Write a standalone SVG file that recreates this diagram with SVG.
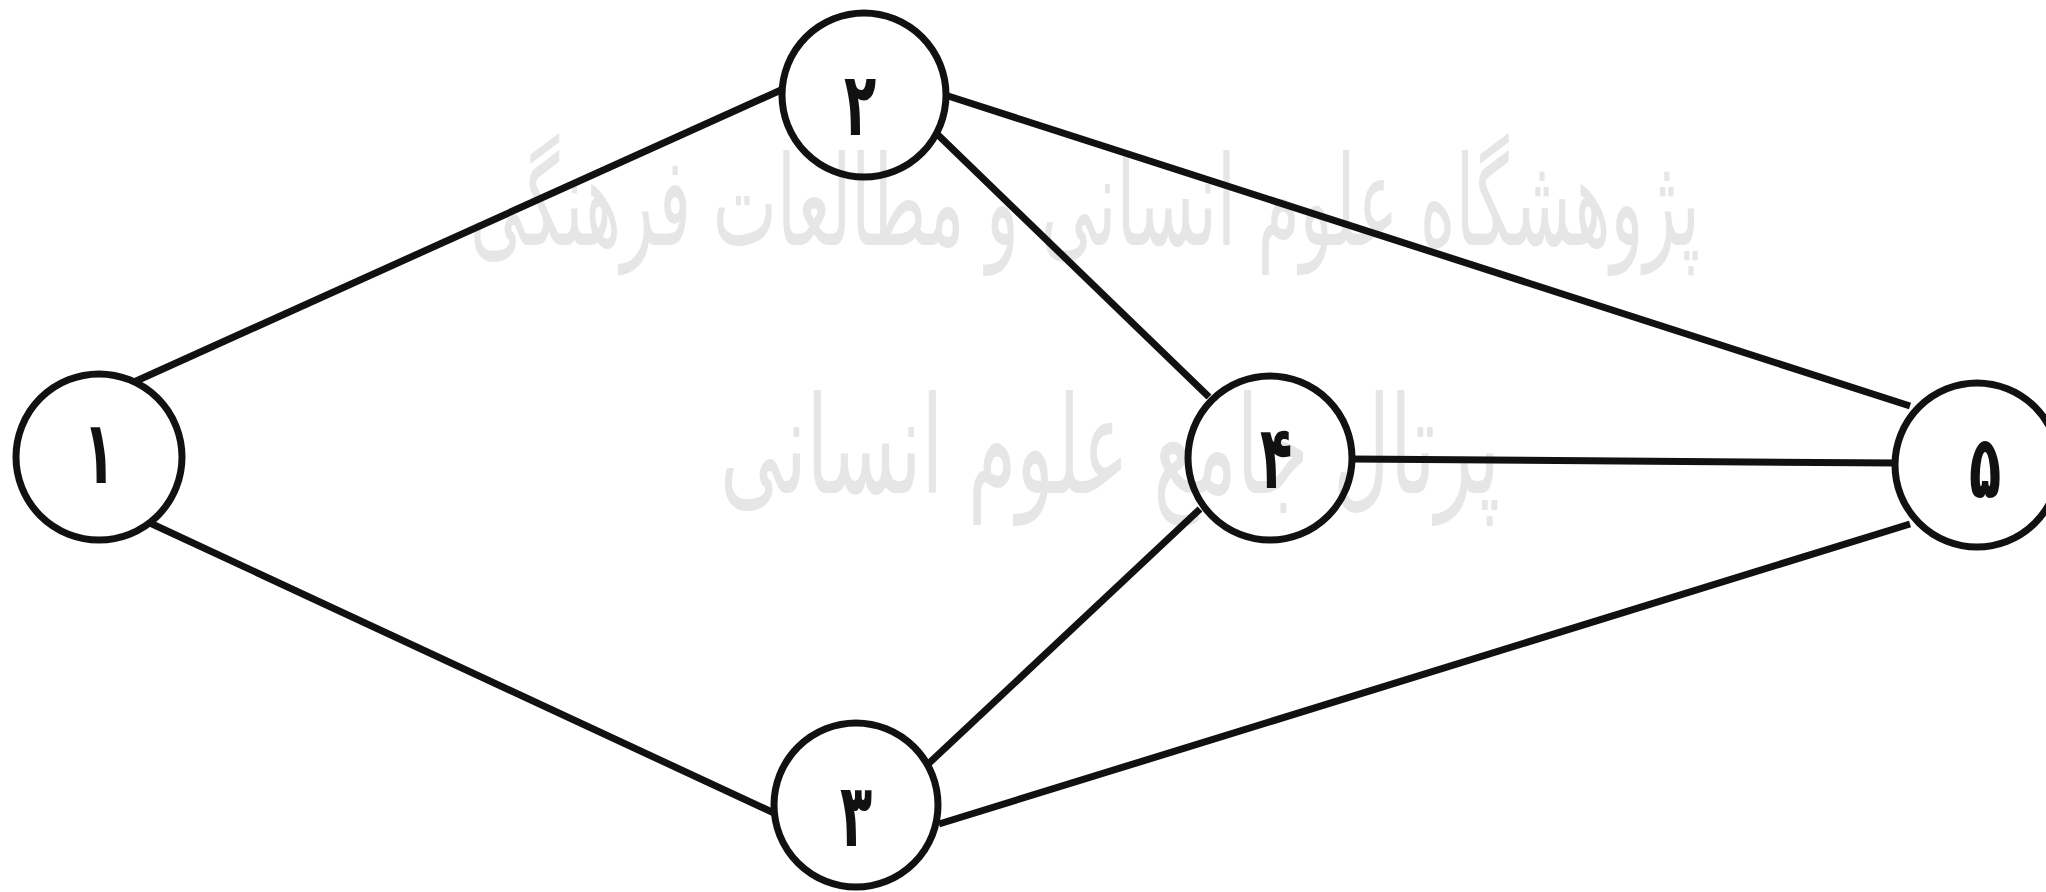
<svg xmlns="http://www.w3.org/2000/svg" width="2046" height="892" viewBox="0 0 2046 892">
<style>
.edge{stroke:#111;stroke-width:7;stroke-linecap:butt;fill:none}
.node circle{fill:none;stroke:#111;stroke-width:7}
.lbl{font-family:"DejaVu Sans",sans-serif;font-weight:bold;font-size:88px;fill:#111;text-anchor:middle}
.wm{font-family:"DejaVu Sans","Noto Sans",sans-serif;fill:#e6e6e6;text-anchor:middle}
</style>
<rect width="2046" height="892" fill="#fff"/>
<g id="watermark">
<text class="wm" x="1085" y="245" font-size="125" textLength="1230" lengthAdjust="spacingAndGlyphs">پژوهشگاه علوم انسانی و مطالعات فرهنگی</text>
<text class="wm" x="1110" y="493" font-size="135" textLength="780" lengthAdjust="spacingAndGlyphs">پرتال جامع علوم انسانی</text>
</g>
<g id="connectors">
<line class="edge" x1="134" y1="382" x2="781" y2="90"/>
<line class="edge" x1="150" y1="523" x2="774" y2="813"/>
<line class="edge" x1="945" y1="95" x2="1910" y2="406"/>
<line class="edge" x1="936" y1="133" x2="1209" y2="397"/>
<line class="edge" x1="1352" y1="459" x2="1897" y2="463"/>
<line class="edge" x1="1200" y1="509" x2="926" y2="766"/>
<line class="edge" x1="939" y1="824" x2="1910" y2="524"/>
</g>
<g id="node1" class="node"><circle cx="99" cy="457" r="83"/><text class="lbl" transform="translate(99,483) scale(0.6,1)">۱</text></g>
<g id="node2" class="node"><circle cx="864" cy="95" r="82"/><text class="lbl" transform="translate(860,135) scale(0.6,1)">۲</text></g>
<g id="node3" class="node"><circle cx="856" cy="805" r="82"/><text class="lbl" transform="translate(856,846) scale(0.6,1)">۳</text></g>
<g id="node4" class="node"><circle cx="1270" cy="458" r="82"/><text class="lbl" transform="translate(1276,488) scale(0.6,1)">۴</text></g>
<g id="node5" class="node"><circle cx="1977" cy="465" r="82"/><text class="lbl" transform="translate(1985,498) scale(0.6,1)">۵</text></g>
</svg>
